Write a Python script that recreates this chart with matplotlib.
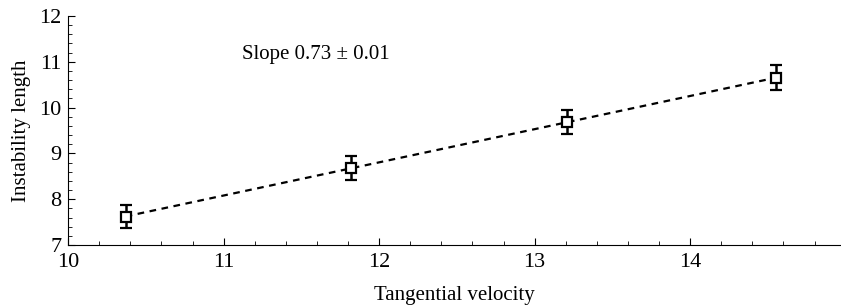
import matplotlib
matplotlib.use("Agg")
import matplotlib.pyplot as plt
from matplotlib.ticker import MultipleLocator
import numpy as np

plt.rcParams['font.family'] = ['Liberation Serif', 'DejaVu Serif']

velocity = [10.37, 11.82, 13.21, 14.55]
length = [7.62, 8.68, 9.68, 10.65]
length_err = [0.26, 0.26, 0.26, 0.27]
slope_text = "Slope 0.73 \u00b1 0.01"

fig = plt.figure(figsize=(8.41, 3.07), dpi=100)
ax = fig.add_axes([0.081, 0.202, 0.919, 0.746])

# linear fit through the points
coef = np.polyfit(velocity, length, 1)
xfit = np.array([velocity[0], velocity[-1]])
ax.plot(xfit, np.polyval(coef, xfit), color='black', linestyle=(0, (3, 2.5)), linewidth=1.6)

ax.errorbar(velocity, length, yerr=length_err, fmt='s', markersize=6.5,
            markerfacecolor='white', markeredgecolor='black', markeredgewidth=1.6,
            ecolor='black', elinewidth=1.8, capsize=4.5, capthick=1.8, zorder=3)

ax.text(11.12, 11.15, slope_text, fontsize=15, ha='left', va='center')

ax.set_xlim(10, 14.97)
ax.set_ylim(7, 12)
ax.xaxis.set_major_locator(MultipleLocator(1))
ax.xaxis.set_minor_locator(MultipleLocator(0.2))
ax.yaxis.set_major_locator(MultipleLocator(1))
ax.yaxis.set_minor_locator(MultipleLocator(0.2))
ax.spines['top'].set_visible(False)
ax.spines['right'].set_visible(False)
ax.tick_params(which='both', direction='in', labelsize=16)
ax.tick_params(axis='x', pad=6)
ax.tick_params(axis='y', pad=5)
ax.tick_params(which='major', length=5)
ax.tick_params(which='minor', length=3)
ax.set_xlabel("Tangential velocity", fontsize=15, labelpad=10)
ax.set_ylabel("Instability length", fontsize=15, labelpad=6)

fig.savefig("out.png", dpi=100)
